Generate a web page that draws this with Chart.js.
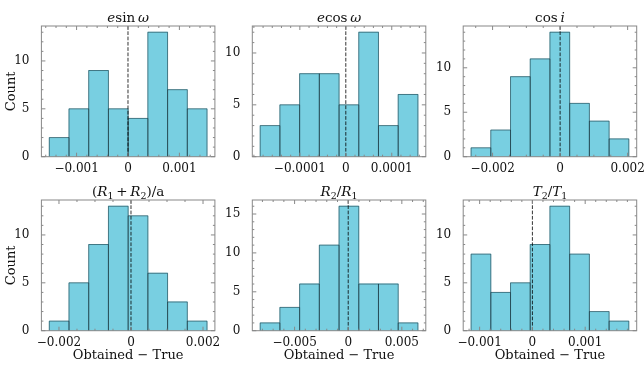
<!DOCTYPE html>
<html>
<head>
<meta charset="utf-8">
<script src="https://cdn.jsdelivr.net/npm/chart.js@4.4.1/dist/chart.umd.min.js"></script>
<style>
  html, body { margin: 0; padding: 0; background: #fff; overflow: hidden; }
  #wrap { position: relative; width: 644px; height: 365px; }
  #wrap canvas { position: absolute; left: 0; top: 0; }
  .ttl {
    position: absolute; white-space: nowrap; transform: translateX(-50%);
    font-family: "DejaVu Serif", serif; font-size: 13.5px; line-height: 16px; color: #111;
  }
  .ttl sub { font-size: 70%; vertical-align: -0.3em; line-height: 0; }
</style>
</head>
<body>
<div id="wrap"></div>
<script>
// histogram bin edges and counts
const esinwEdges = [-0.001531, -0.0011475, -0.000764, -0.0003805, 0.000003, 0.0003865, 0.00077, 0.0011535, 0.001537];
const esinwCounts = [2, 5, 9, 5, 4, 13, 7, 5];
const ecoswEdges = [-0.0001863, -0.0001434, -0.0001005, -0.0000576, -0.0000147, 0.0000282, 0.0000711, 0.000114, 0.0001569];
const ecoswCounts = [3, 5, 8, 8, 5, 12, 3, 6];
const cosiEdges = [-0.002637, -0.002053, -0.001469, -0.000885, -0.000301, 0.000283, 0.000867, 0.001451, 0.002035];
const cosiCounts = [1, 3, 9, 11, 14, 6, 4, 2];
const sumREdges = [-0.002269, -0.0017215, -0.001174, -0.0006265, -0.000079, 0.0004685, 0.001016, 0.0015635, 0.002111];
const sumRCounts = [1, 5, 9, 13, 12, 6, 3, 1];
const rRatioEdges = [-0.008209, -0.00637, -0.004532, -0.002693, -0.000855, 0.000984, 0.002823, 0.004661, 0.0065];
const rRatioCounts = [1, 3, 6, 11, 16, 6, 6, 1];
const tRatioEdges = [-0.001162, -0.000788, -0.000415, -0.000041, 0.000332, 0.000706, 0.00108, 0.001453, 0.001827];
const tRatioCounts = [8, 4, 5, 9, 13, 8, 2, 1];

// tick values and labels
const ticks1e3 = [-0.001, 0, 0.001];
const labels1e3 = ['\u22120.001', '0', '0.001'];
const ticks1e4 = [-0.0001, 0, 0.0001];
const labels1e4 = ['\u22120.0001', '0', '0.0001'];
const ticks2e3 = [-0.002, 0, 0.002];
const labels2e3 = ['\u22120.002', '0', '0.002'];
const ticks5e3 = [-0.005, 0, 0.005];
const labels5e3 = ['\u22120.005', '0', '0.005'];
const countTicks = [0, 5, 10];
const countTicks15 = [0, 5, 10, 15];

const FONT = '"DejaVu Serif", serif';
const FILL = '#78cfe1';
const EDGE = 'rgba(20, 45, 55, 0.55)';

// axes boxes (px)
const colLeft = [41.4, 252.3, 463.2];
const boxW = 173.5;
const rowTop = [26, 200];
const boxH = 130.7;
const yW = 38;
const xH = [20, 33];

const panels = [
  { title: '<i>e</i>sin\u2009<i>\u03c9</i>', edges: esinwEdges, counts: esinwCounts, xt: ticks1e3, xl: labels1e3, minor: 0.0002, yt: countTicks, r: 0, c: 0 },
  { title: '<i>e</i>cos\u2009<i>\u03c9</i>', edges: ecoswEdges, counts: ecoswCounts, xt: ticks1e4, xl: labels1e4, minor: 0.00002, yt: countTicks, r: 0, c: 1 },
  { title: 'cos\u2009<i>i</i>', edges: cosiEdges, counts: cosiCounts, xt: ticks2e3, xl: labels2e3, minor: 0.0005, yt: countTicks, r: 0, c: 2 },
  { title: '(<i>R</i><sub>1</sub>\u2009+\u2009<i>R</i><sub>2</sub>)/a', edges: sumREdges, counts: sumRCounts, xt: ticks2e3, xl: labels2e3, minor: 0.0005, yt: countTicks, r: 1, c: 0 },
  { title: '<i>R</i><sub>2</sub>/<i>R</i><sub>1</sub>', edges: rRatioEdges, counts: rRatioCounts, xt: ticks5e3, xl: labels5e3, minor: 0.001, yt: countTicks15, r: 1, c: 1 },
  { title: '<i>T</i><sub>2</sub>/<i>T</i><sub>1</sub>', edges: tRatioEdges, counts: tRatioCounts, xt: ticks1e3, xl: labels1e3, minor: 0.0002, yt: countTicks, r: 1, c: 2 },
];

// bar outlines, dashed zero line, and a frame with inward ticks on all sides
const framePlugin = {
  id: 'frame',
  afterDatasetsDraw(chart) {
    const { ctx, chartArea: a, scales: { x } } = chart;
    ctx.save();
    // outline every bar like matplotlib's edgecolor (shared edges get drawn twice)
    ctx.strokeStyle = EDGE;
    ctx.lineWidth = 1;
    chart.getDatasetMeta(0).data.forEach(el => {
      const { x: cx, y, base, width } = el.getProps(['x', 'y', 'base', 'width'], true);
      const l = cx - width / 2, r = cx + width / 2;
      ctx.beginPath();
      ctx.moveTo(l, base); ctx.lineTo(l, y); ctx.lineTo(r, y); ctx.lineTo(r, base);
      ctx.stroke();
    });
    const px = x.getPixelForValue(0);
    ctx.strokeStyle = 'rgba(0,0,0,0.8)';
    ctx.setLineDash([3.7, 1.6]);
    ctx.beginPath();
    ctx.moveTo(px, a.top);
    ctx.lineTo(px, a.bottom);
    ctx.stroke();
    ctx.restore();
  },
  afterDraw(chart, args, opts) {
    const { ctx, chartArea: a, scales: { x, y } } = chart;
    ctx.save();
    ctx.strokeStyle = '#888';
    ctx.lineWidth = 1;
    ctx.beginPath();
    const mark = (axis, step, majors) => {
      const k0 = Math.ceil(axis.min / step - 1e-6);
      const k1 = Math.floor(axis.max / step + 1e-6);
      for (let k = k0; k <= k1; k++) {
        const v = k * step;
        const len = majors.some(m => Math.abs(m - v) < step * 0.01) ? 4 : 2;
        const p = axis.getPixelForValue(v);
        if (axis === x) {
          ctx.moveTo(p, a.bottom); ctx.lineTo(p, a.bottom - len);
          ctx.moveTo(p, a.top); ctx.lineTo(p, a.top + len);
        } else {
          ctx.moveTo(a.left, p); ctx.lineTo(a.left + len, p);
          ctx.moveTo(a.right, p); ctx.lineTo(a.right - len, p);
        }
      }
    };
    mark(x, opts.minor, opts.xt);
    mark(y, 1, opts.yt);
    ctx.stroke();
    ctx.strokeRect(a.left, a.top, a.right - a.left, a.bottom - a.top);
    ctx.restore();
  }
};

const wrap = document.getElementById('wrap');

panels.forEach(p => {
  const L = colLeft[p.c], T = rowTop[p.r], H = xH[p.r];
  const n = p.counts.length;
  const span = p.edges[n] - p.edges[0];
  const xMin = p.edges[0] - 0.05 * span;
  const xMax = p.edges[n] + 0.05 * span;
  const yMax = Math.max(...p.counts) * 1.05;

  const cv = document.createElement('canvas');
  cv.width = 644; cv.height = 365;
  wrap.appendChild(cv);

  const t = document.createElement('div');
  t.className = 'ttl';
  t.innerHTML = p.title;
  t.style.left = (L + boxW / 2) + 'px';
  t.style.top = (T - 17) + 'px';
  wrap.appendChild(t);

  new Chart(cv, {
    type: 'bar',
    data: {
      datasets: [{
        data: p.counts.map((c, i) => ({ x: (p.edges[i] + p.edges[i + 1]) / 2, y: c })),
        backgroundColor: FILL,
        borderWidth: 0,
        barPercentage: 1,
        categoryPercentage: 1,
        inflateAmount: 0.4,
      }]
    },
    options: {
      responsive: false,
      animation: false,
      events: [],
      layout: { padding: { left: L - yW, right: 644 - L - boxW, top: T, bottom: 365 - T - boxH - H } },
      plugins: {
        legend: { display: false },
        tooltip: { enabled: false },
        frame: { minor: p.minor, xt: p.xt, yt: p.yt },
      },
      scales: {
        x: {
          type: 'linear', offset: false, min: xMin, max: xMax,
          grid: { display: false }, border: { display: false },
          afterBuildTicks: s => { s.ticks = p.xt.map(v => ({ value: v })); },
          afterFit: s => { s.height = H; s.paddingLeft = 0; s.paddingRight = 0; },
          ticks: {
            autoSkip: false, maxRotation: 0, padding: -3, color: '#111',
            font: { family: FONT, size: 12 },
            callback: (v, i) => p.xl[i],
          },
          title: {
            display: p.r === 1, text: 'Obtained \u2212 True', padding: 0, color: '#111',
            font: { family: FONT, size: 13 },
          },
        },
        y: {
          type: 'linear', min: 0, max: yMax,
          grid: { display: false }, border: { display: false },
          afterBuildTicks: s => { s.ticks = p.yt.map(v => ({ value: v })); },
          afterFit: s => { s.width = yW; s.paddingTop = 0; s.paddingBottom = 0; },
          ticks: {
            padding: 4, color: '#111',
            font: { family: FONT, size: 12 },
            callback: (v, i) => String(p.yt[i]),
          },
          title: {
            display: p.c === 0, text: 'Count', padding: 0, color: '#111',
            font: { family: FONT, size: 13 },
          },
        },
      },
    },
    plugins: [framePlugin],
  });
});
</script>
</body>
</html>
